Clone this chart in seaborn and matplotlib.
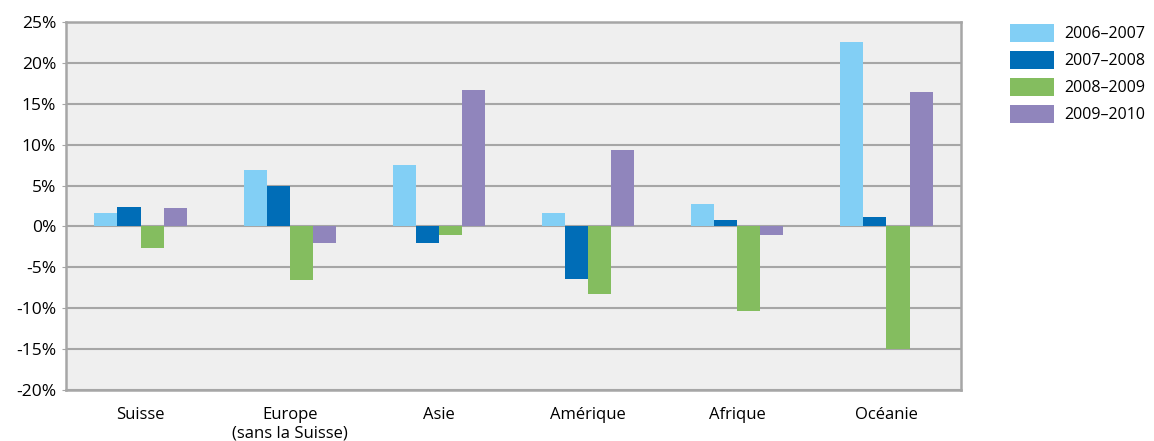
import pandas as pd
import seaborn as sns
import matplotlib.pyplot as plt
from matplotlib.ticker import FuncFormatter

regions = ['Suisse', 'Europe\n(sans la Suisse)', 'Asie', 'Amérique', 'Afrique', 'Océanie']
periods = ['2006–2007', '2007–2008', '2008–2009', '2009–2010']

v_2006_2007 = [1.7, 6.9, 7.5, 1.7, 2.8, 22.6]
v_2007_2008 = [2.4, 5.0, -2.0, -6.4, 0.8, 1.2]
v_2008_2009 = [-2.6, -6.5, -1.0, -8.3, -10.3, -15.0]
v_2009_2010 = [2.2, -2.0, 16.7, 9.4, -1.1, 16.4]

colors = ['#82CFF5', '#006DB7', '#84BD5F', '#9085BC']

rows = []
for p, vals in zip(periods, [v_2006_2007, v_2007_2008, v_2008_2009, v_2009_2010]):
    for r, v in zip(regions, vals):
        rows.append({'Région': r, 'Période': p, 'Valeur': v})
data = pd.DataFrame(rows)

plt.rcParams['font.family'] = ['Open Sans', 'DejaVu Sans']

fig = plt.figure(figsize=(11.54, 4.41), dpi=100)
ax = fig.add_axes([66 / 1154, 1 - 390 / 441, 895 / 1154, 368 / 441])
ax.set_facecolor('#EFEFEF')

sns.barplot(data=data, x='Région', y='Valeur', hue='Période', palette=colors,
            width=0.62, saturation=1, ax=ax, errorbar=None, linewidth=0, zorder=3)

ax.set_ylim(-20, 25)
ax.set_yticks(range(-20, 26, 5))
ax.yaxis.set_major_formatter(FuncFormatter(lambda v, _: f'{v:.0f}%'))
ax.grid(axis='y', color='#A6A6A6', linewidth=1.5, zorder=1)
ax.set_axisbelow(True)
ax.set_xlim(-0.5, 5.5)
ax.set_xlabel('')
ax.set_ylabel('')
for s in ax.spines.values():
    s.set_color('#A6A6A6')
    s.set_linewidth(1.8)
ax.tick_params(axis='y', length=3, color='#A6A6A6', labelsize=12.5, pad=4)
ax.tick_params(axis='x', length=0, labelsize=12, pad=12)

ax.legend(loc='upper left', bbox_to_anchor=(1.048, 1.013), frameon=False,
          fontsize=11.5, handlelength=2.75, handleheight=1.35, labelspacing=0.55,
          handletextpad=0.6, borderaxespad=0)

fig.savefig('out.png', dpi=100)
